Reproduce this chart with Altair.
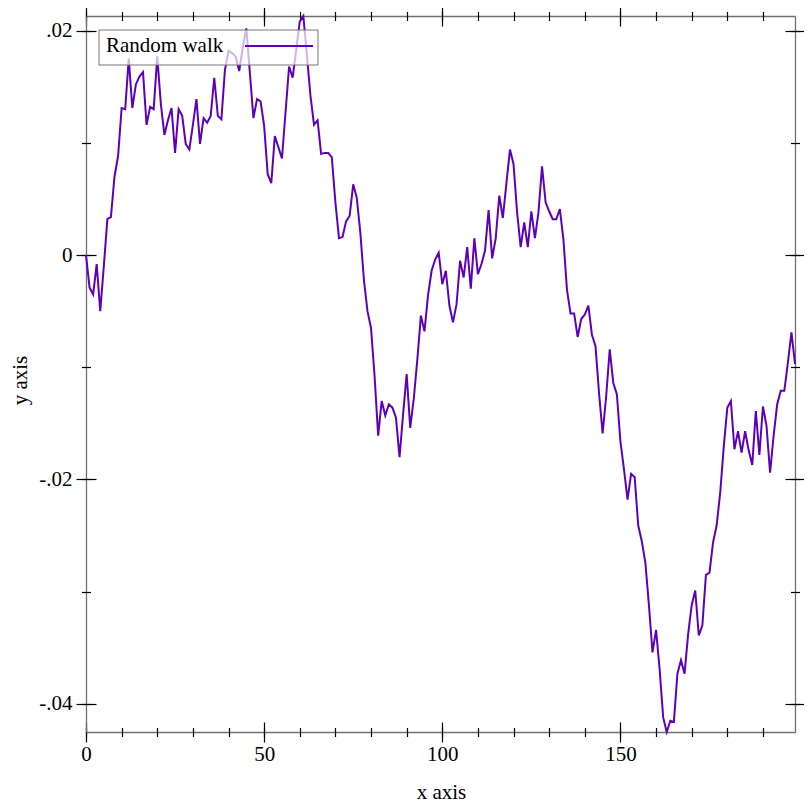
import altair as alt
import pandas as pd

# ---- data ----
xs = list(range(200))
ys = [
    0.0000, -0.0029, -0.0035, -0.0008, -0.0050, -0.0010, 0.0032, 0.0034, 0.0070, 0.0088,
    0.0131, 0.0130, 0.0175, 0.0131, 0.0152, 0.0159, 0.0163, 0.0116, 0.0132, 0.0130,
    0.0177, 0.0135, 0.0107, 0.0120, 0.0131, 0.0091, 0.0130, 0.0124, 0.0099, 0.0094,
    0.0116, 0.0139, 0.0099, 0.0122, 0.0118, 0.0124, 0.0158, 0.0124, 0.0121, 0.0165,
    0.0182, 0.0180, 0.0177, 0.0164, 0.0185, 0.0202, 0.0162, 0.0122, 0.0139, 0.0137,
    0.0115, 0.0072, 0.0064, 0.0106, 0.0096, 0.0086, 0.0127, 0.0168, 0.0158, 0.0183,
    0.0208, 0.0213, 0.0178, 0.0142, 0.0116, 0.0120, 0.0090, 0.0091, 0.0091, 0.0087,
    0.0047, 0.0015, 0.0016, 0.0030, 0.0035, 0.0063, 0.0051, 0.0020, -0.0022, -0.0050,
    -0.0065, -0.0108, -0.0161, -0.0130, -0.0143, -0.0133, -0.0136, -0.0145, -0.0180, -0.0142,
    -0.0106, -0.0154, -0.0128, -0.0093, -0.0054, -0.0068, -0.0036, -0.0014, -0.0004, 0.0002,
    -0.0026, -0.0014, -0.0045, -0.0060, -0.0044, -0.0005, -0.0020, 0.0007, -0.0030, 0.0015,
    -0.0017, -0.0008, 0.0004, 0.0040, -0.0003, 0.0015, 0.0053, 0.0033, 0.0064, 0.0094,
    0.0081, 0.0038, 0.0007, 0.0029, 0.0007, 0.0039, 0.0015, 0.0038, 0.0079, 0.0047,
    0.0039, 0.0032, 0.0032, 0.0041, 0.0014, -0.0031, -0.0052, -0.0052, -0.0073, -0.0057,
    -0.0053, -0.0045, -0.0071, -0.0081, -0.0123, -0.0159, -0.0126, -0.0084, -0.0114, -0.0124,
    -0.0166, -0.0191, -0.0218, -0.0195, -0.0198, -0.0241, -0.0255, -0.0274, -0.0312, -0.0354,
    -0.0334, -0.0369, -0.0412, -0.0425, -0.0415, -0.0416, -0.0373, -0.0361, -0.0373, -0.0338,
    -0.0312, -0.0299, -0.0339, -0.0330, -0.0285, -0.0283, -0.0256, -0.0241, -0.0212, -0.0171,
    -0.0136, -0.0130, -0.0173, -0.0157, -0.0176, -0.0157, -0.0174, -0.0187, -0.0139, -0.0178,
    -0.0135, -0.0152, -0.0194, -0.0161, -0.0133, -0.0121, -0.0121, -0.0096, -0.0069, -0.0097,
]
series_labels = ["Random walk"]
x_major = [0, 50, 100, 150]
x_minor = list(range(0, 200, 10))
y_major = [-0.04, -0.02, 0.0, 0.02]
y_minor = [-0.04, -0.03, -0.02, -0.01, 0.0, 0.01, 0.02]

FONT = "Liberation Serif"
LINE_COLOR = "#5e00b8"
FRAME = "#707070"

df = pd.DataFrame({"x": xs, "y": ys})
leg = pd.DataFrame({"label": series_labels})

xscale = alt.Scale(domain=[min(xs), max(xs)], nice=False, zero=False)
yscale = alt.Scale(domain=[min(ys), max(ys)], nice=False, zero=False)

common = dict(grid=False, domain=False, tickColor="black", tickWidth=1.2)

y_label_expr = ("datum.value == 0 ? '0' : (datum.value < 0 ? '-' : '') + "
                "replace(format(abs(datum.value), '.2f'), '0.', '.')")

main = alt.Chart(df).mark_line(color=LINE_COLOR, strokeWidth=2).encode(
    x=alt.X("x:Q", scale=xscale, title="x axis",
            axis=alt.Axis(orient="bottom", values=x_major, offset=-10, tickSize=20,
                          labelPadding=1, labelFont=FONT, labelFontSize=21, labelColor="black",
                          labelFlush=False, format="d",
                          titleFont=FONT, titleFontSize=21, titleFontWeight="normal",
                          titleColor="black", titleX=355, titleY=76,
                          titleBaseline="alphabetic", titleAlign="center", **common)),
    y=alt.Y("y:Q", scale=yscale, title="y axis",
            axis=alt.Axis(orient="left", values=y_major, offset=-10, tickSize=20,
                          labelPadding=4, labelFont=FONT, labelFontSize=21, labelColor="black",
                          labelFlush=False, labelExpr=y_label_expr,
                          titleFont=FONT, titleFontSize=21, titleFontWeight="normal",
                          titleColor="black", titleX=-70, titleY=364, titleAngle=270,
                          titleBaseline="alphabetic", titleAlign="center", **common)),
)


def tick_layer(xorient, yorient, xvals, yvals, size):
    half = size / 2
    return alt.Chart(df).mark_line(opacity=0).encode(
        x=alt.X("x:Q", scale=xscale, title=None,
                axis=alt.Axis(orient=xorient, values=xvals, offset=-half, tickSize=size,
                              labels=False, **common)),
        y=alt.Y("y:Q", scale=yscale, title=None,
                axis=alt.Axis(orient=yorient, values=yvals, offset=-half, tickSize=size,
                              labels=False, **common)),
    )


def frame_layer(xorient, yorient):
    return alt.Chart(df).mark_line(opacity=0).encode(
        x=alt.X("x:Q", scale=xscale, title=None,
                axis=alt.Axis(orient=xorient, ticks=False, labels=False, grid=False,
                              domain=True, domainColor=FRAME, domainWidth=1.3)),
        y=alt.Y("y:Q", scale=yscale, title=None,
                axis=alt.Axis(orient=yorient, ticks=False, labels=False, grid=False,
                              domain=True, domainColor=FRAME, domainWidth=1.3)),
    )


frame_bl = frame_layer("bottom", "left")
frame_tr = frame_layer("top", "right")
minor_bl = tick_layer("bottom", "left", x_minor, y_minor, 9)
major_tr = tick_layer("top", "right", x_major, y_major, 20)
minor_tr = tick_layer("top", "right", x_minor, y_minor, 9)

legend_box = alt.Chart(leg).mark_rect(
    fill="white", fillOpacity=0.7, stroke="#777777", strokeWidth=1
).encode(x=alt.value(13), x2=alt.value(232), y=alt.value(14), y2=alt.value(49))

legend_text = alt.Chart(leg).mark_text(
    font=FONT, fontSize=21, color="black", align="left", baseline="alphabetic"
).encode(text="label:N", x=alt.value(20), y=alt.value(36))

legend_line = alt.Chart(leg).mark_rule(color=LINE_COLOR, strokeWidth=2).encode(
    x=alt.value(159), x2=alt.value(227), y=alt.value(30))

chart = alt.layer(
    main, frame_bl, frame_tr, minor_bl, major_tr, minor_tr,
    legend_box, legend_text, legend_line
).resolve_axis(x="independent", y="independent").properties(
    width=709, height=716,
    autosize=alt.AutoSizeParams(type="none"),
    padding={"left": 78, "top": 8, "right": 9, "bottom": 72},
).configure_view(stroke=None).configure(background="white")

chart.save("out.html", embed_options={"renderer": "svg", "actions": False})
